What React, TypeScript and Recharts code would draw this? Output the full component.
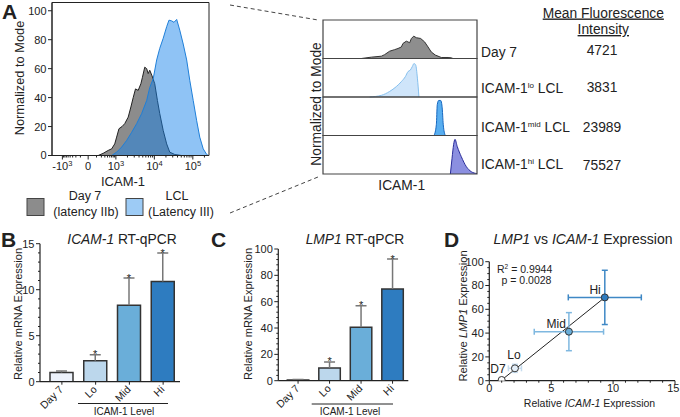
import React from "react";
import {
  AreaChart, Area, XAxis, YAxis, ReferenceArea, ComposedChart, Bar, Cell,
  Scatter, ErrorBar, ScatterChart, ReferenceLine,
} from "recharts";

const W = 680;
const H = 417;
const FONT = "'Liberation Sans', Arial, Helvetica, sans-serif";
const INK = "#222";

// ---------- Panel A (left): overlaid flow histograms; x in display decades (3 = 10^3)
const day7HistX = [2.54, 2.67, 2.8, 2.89, 2.97, 3.02, 3.08, 3.16, 3.23, 3.32, 3.39, 3.45, 3.51, 3.58, 3.65, 3.69, 3.75, 3.8, 3.84, 3.88, 3.94, 4.01, 4.08, 4.14, 4.23, 4.32, 4.4, 4.53, 4.71];
const day7HistY = [0, 1.5, 3.5, 4.6, 8, 12.7, 18.5, 20, 22, 26.5, 33.5, 40, 46, 45, 49.6, 54, 61, 60, 56.6, 58.9, 55, 49.6, 38, 29, 17.3, 8, 2.3, 0.7, 0];
const lclHistX = [2.89, 3.02, 3.15, 3.28, 3.41, 3.54, 3.67, 3.8, 3.88, 3.97, 4.06, 4.14, 4.23, 4.32, 4.38, 4.45, 4.51, 4.58, 4.66, 4.75, 4.84, 4.92, 5.01, 5.1, 5.18, 5.27, 5.36, 5.4];
const lclHistY = [0, 2.3, 5.8, 10.4, 16, 22, 29, 38, 47, 53, 66, 74, 81, 89, 93.5, 93, 92, 94, 86.6, 77, 66, 52, 38, 24, 12.7, 4.6, 0.7, 0];
const histMajorTicks = [1.61, 2.28, 3, 4, 5];
const histTickBase = ["-10", "0", "10", "10", "10"];
const histTickExp = ["3", "", "3", "4", "5"];
const histYTicks = [0, 20, 40, 60, 80, 100];

// ---------- Panel A (right): stacked histograms (x = % of box width, y = % of row height)
const d7StackX = [24.9, 31.4, 37.9, 40, 43.3, 46.5, 48.7, 50.9, 51.9, 54.1, 56.3, 57.4, 58.9, 60.6, 63.4, 66, 68.2, 70.3, 72.9, 76.8, 81.2, 83.3, 84.4];
const d7StackY = [0, 3.5, 6, 10, 19, 23, 26, 30, 39, 45, 41, 52, 58, 54, 52, 43, 30, 17, 9, 2.6, 2.6, 1.7, 0];
const loStackX = [30.3, 37.9, 43.3, 47.6, 50.9, 53.5, 55.2, 56.7, 58, 59.1, 60.2, 61.3, 62.3];
const loStackY = [0, 4.3, 14.5, 27, 40, 53, 66, 70, 79, 87, 83, 49, 0];
const midStackX = [72.1, 73.6, 74.2, 75.1, 76.4, 77.3, 78.1, 79.4];
const midStackY = [0, 28, 80, 91, 91, 76, 28, 0];
const hiStackX = [82.7, 83.8, 84.8, 85.7, 87.2, 89.8, 93.1, 96.3, 100];
const hiStackY = [0, 41, 76, 90, 71, 45, 19, 6, 1];
const stackNames = ["Day 7", "ICAM-1", "ICAM-1", "ICAM-1"];
const stackSup = ["", "lo", "mid", "hi"];
const stackMFI = ["4721", "3831", "23989", "75527"];

// ---------- Panels B & C: bar charts
const barCats = ["Day 7", "Lo", "Mid", "Hi"];
const icamMean = [0.99, 2.27, 8.3, 10.9];
const icamErr = [0.18, 0.66, 2.97, 3.08];
const lmpMean = [0.5, 9.6, 40.5, 69.6];
const lmpErr = [0.5, 4.6, 16.5, 22.8];
const barStar = [false, true, true, true];
const barColors = ["#edf2fb", "#bcd7ec", "#6aaed9", "#2e7cc0"];

// ---------- Panel D: correlation scatter
const corrNames = ["D7", "Lo", "Mid", "Hi"];
const corrX = [1.0, 2.07, 6.43, 9.33];
const corrY = [0.6, 10.4, 41.2, 70];
const corrXErr = [0, 0.53, 2.8, 2.95];
const corrYErr = [0, 3.4, 16, 22.8];
const corrFill = ["#ffffff", "#e3eef8", "#6aaed9", "#2e7cc0"];
const corrErrColor = ["#c6dcee", "#c6dcee", "#7fb8e0", "#3f88c5"];
const regLine = [{ x: 1.0, y: 0.6 }, { x: 9.33, y: 70 }];

// ---------- helpers
function box(l: number, t: number, r: number, b: number) {
  return { left: l - 1, top: t, right: W - r, bottom: H - b - 1 };
}
function range(a: number, b: number, step: number) {
  const out: number[] = [];
  for (let v = a; v <= b + 1e-9; v += step) out.push(Math.round(v * 1000) / 1000);
  return out;
}
const isMult = (v: number, m: number) => Math.abs(v / m - Math.round(v / m)) < 1e-6;

function yTickFactory(majorEvery: number, fs: number, majorLen = 4, minorLen = 2) {
  return (p: any) => {
    const v = p.payload.value as number;
    const major = isMult(v, majorEvery);
    return (
      <g>
        <line x1={p.x - (major ? majorLen : minorLen)} x2={p.x} y1={p.y} y2={p.y} stroke={INK} strokeWidth={1} />
        {major && (
          <text x={p.x - majorLen - 1.5} y={p.y} dy="0.36em" textAnchor="end" fontSize={fs} fontFamily={FONT} fill={INK}>
            {v}
          </text>
        )}
      </g>
    );
  };
}
function xTickFactory(majorEvery: number, fs: number, maxV: number, majorLen = 3.5, minorLen = 2) {
  return (p: any) => {
    const v = p.payload.value as number;
    const major = isMult(v, majorEvery);
    const last = Math.abs(v - maxV) < 1e-6;
    return (
      <g>
        <line x1={p.x} x2={p.x} y1={p.y} y2={p.y + (major ? majorLen : minorLen)} stroke={INK} strokeWidth={1} />
        {major && (
          <text x={last ? p.x + 4.5 : p.x} y={p.y + 11} textAnchor={last ? "end" : "middle"} fontSize={fs} fontFamily={FONT} fill={INK}>
            {v}
          </text>
        )}
      </g>
    );
  };
}

function HistXTick(p: any) {
  const i = histMajorTicks.indexOf(p.payload.value);
  if (i < 0) return <line x1={p.x} x2={p.x} y1={p.y} y2={p.y + 2} stroke={INK} />;
  return (
    <g>
      <line x1={p.x} x2={p.x} y1={p.y} y2={p.y + 4} stroke={INK} />
      <text x={p.x} y={p.y + 14} textAnchor="middle" fontSize={11} fontFamily={FONT} fill={INK}>
        {histTickBase[i]}
        {histTickExp[i] ? <tspan dy={-4} fontSize={7.5}>{histTickExp[i]}</tspan> : null}
      </text>
    </g>
  );
}

function RotTick(p: any) {
  return (
    <g>
      <line x1={p.x} x2={p.x} y1={p.y} y2={p.y + 3} stroke={INK} />
      <text x={p.x + 2} y={p.y + 8.5} transform={`rotate(-45 ${p.x + 2} ${p.y + 8.5})`} textAnchor="end" fontSize={10.5} fontFamily={FONT} fill={INK}>
        {p.payload.value}
      </text>
    </g>
  );
}

function ErrShape(p: any) {
  const cx = p.x + p.width / 2;
  const top = p.y;
  const bottom = p.y + p.height;
  return (
    <g>
      <line x1={cx} x2={cx} y1={bottom} y2={top} stroke="#777" strokeWidth={1.5} />
      <line x1={cx - 5.5} x2={cx + 5.5} y1={top} y2={top} stroke="#777" strokeWidth={1.5} />
      {p.payload.sig ? (
        <text x={cx} y={top + 3.5} textAnchor="middle" fontSize={11} fontFamily={FONT} fill={INK}>*</text>
      ) : null}
    </g>
  );
}

const logFrac = [2, 3, 4, 5, 6, 7, 8, 9].map((k) => Math.log10(k));
const histMinorTicks = [
  ...logFrac.map((f) => 2.28 - 0.67 * f),
  ...logFrac.map((f) => 2.28 + 0.72 * f),
  ...logFrac.map((f) => 3 + f),
  ...logFrac.map((f) => 4 + f),
  5 + logFrac[0],
];
const histAllTicks = [...histMajorTicks, ...histMinorTicks].sort((a, b) => a - b);

const histRows = (() => {
  const m = new Map<number, any>();
  day7HistX.forEach((x, i) => m.set(x, { ...(m.get(x) || { x }), day7: day7HistY[i] }));
  lclHistX.forEach((x, i) => m.set(x, { ...(m.get(x) || { x }), lcl: lclHistY[i] }));
  return Array.from(m.values()).sort((a, b) => a.x - b.x);
})();

const stackSeries = [
  { x: d7StackX, y: d7StackY, fill: "#8e8e8e", stroke: "#333", type: "linear" },
  { x: loStackX, y: loStackY, fill: "#cfe5fa", stroke: "#86c0ee", type: "monotone" },
  { x: midStackX, y: midStackY, fill: "#58aef0", stroke: "#1668c0", type: "monotone" },
  { x: hiStackX, y: hiStackY, fill: "#8b8fe0", stroke: "#2a2d9a", type: "monotone" },
];
const stackTop = 20;
const stackRowH = 38.5;

const icamRows = barCats.map((c, i) => ({ cat: c, value: icamMean[i], err: icamErr[i], sig: barStar[i] }));
const lmpRows = barCats.map((c, i) => ({ cat: c, value: lmpMean[i], err: lmpErr[i], sig: barStar[i] }));

const labelOffsets: Record<string, { dx: number; dy: number; anchor: "end" | "middle" }> = {
  D7: { dx: 4, dy: -7, anchor: "end" },
  Lo: { dx: -1, dy: -9, anchor: "middle" },
  Mid: { dx: -3, dy: -4, anchor: "end" },
  Hi: { dx: -4, dy: -3, anchor: "end" },
};
function CorrDot(p: any) {
  const o = labelOffsets[p.payload.name];
  return (
    <g>
      <circle cx={p.cx} cy={p.cy} r={3.5} fill={p.payload.fill} stroke="#333" strokeWidth={1} />
      <text x={p.cx + o.dx} y={p.cy + o.dy} textAnchor={o.anchor} fontSize={12} fontFamily={FONT} fill={INK}>
        {p.payload.name}
      </text>
    </g>
  );
}

const abs: React.CSSProperties = { position: "absolute", left: 0, top: 0 };

function BarPanel(props: { rows: any[]; margin: any; domainMax: number; yTicks: number[]; yMajor: number; pad: number; barSize: number }) {
  const { rows, margin, domainMax, yTicks, yMajor, pad, barSize } = props;
  return (
    <ComposedChart width={W} height={H} data={rows} margin={margin}>
      <XAxis dataKey="cat" type="category" padding={{ left: pad, right: 0 }} height={1} tickSize={0} tickMargin={0}
        tickLine={false} axisLine={{ stroke: INK, strokeWidth: 1.2 }} tick={RotTick} interval={0} />
      <YAxis type="number" domain={[0, domainMax]} ticks={yTicks} interval={0} width={1} tickSize={0} tickMargin={0}
        tickLine={false} axisLine={{ stroke: INK, strokeWidth: 1.2 }} tick={yTickFactory(yMajor, 11)} allowDataOverflow />
      <Bar dataKey="value" stackId="s" barSize={barSize} stroke="#333" strokeWidth={1.5} isAnimationActive={false}>
        {rows.map((r, i) => <Cell key={r.cat} fill={barColors[i]} />)}
      </Bar>
      <Bar dataKey="err" stackId="s" barSize={barSize} shape={ErrShape} isAnimationActive={false} />
    </ComposedChart>
  );
}

export default function App() {
  return (
    <div style={{ position: "absolute", left: 0, top: 0, width: W, height: H, background: "#fff", overflow: "hidden" }}>
      <div style={abs}>
        <AreaChart width={W} height={H} data={histRows} margin={box(52, 2.5, 209, 155.5)}>
          <XAxis type="number" dataKey="x" domain={[1.34, 5.42]} ticks={histAllTicks} interval={0} height={1}
            tickSize={0} tickMargin={0} tickLine={false} axisLine={{ stroke: INK }} tick={HistXTick} allowDataOverflow />
          <YAxis type="number" domain={[0, 105.7]} ticks={histYTicks} interval={0} width={1} tickSize={0} tickMargin={0}
            tickLine={false} axisLine={{ stroke: INK }} tick={yTickFactory(20, 11)} allowDataOverflow />
          <Area dataKey="day7" type="linear" fill="#8c8c8c" fillOpacity={1} stroke="#222" strokeWidth={1} connectNulls isAnimationActive={false} />
          <Area dataKey="lcl" type="linear" fill="#1482eb" fillOpacity={0.48} stroke="#1f7fd8" strokeWidth={1} connectNulls isAnimationActive={false} />
          <ReferenceArea x1={1.34} x2={5.42} y1={0} y2={105.7} fill="#fff" fillOpacity={0} stroke={INK} strokeWidth={1} ifOverflow="visible" />
        </AreaChart>
      </div>

      {stackSeries.map((s, k) => {
        const rows = s.x.map((x, i) => ({ x, y: s.y[i] }));
        const t = stackTop + k * stackRowH;
        return (
          <div style={abs} key={k}>
            <AreaChart width={W} height={H} data={rows} margin={{ left: 323, top: t, right: W - 477, bottom: H - t - stackRowH }}>
              <XAxis type="number" dataKey="x" domain={[0, 100]} hide />
              <YAxis type="number" domain={[0, 100]} hide />
              <Area dataKey="y" type={s.type as any} fill={s.fill} fillOpacity={1} stroke={s.stroke} strokeWidth={1} isAnimationActive={false} />
              <ReferenceArea x1={0} x2={100} y1={0} y2={100} fill="#fff" fillOpacity={0} stroke="#444" strokeWidth={1.2} ifOverflow="visible" />
            </AreaChart>
          </div>
        );
      })}

      <div style={abs}>
        <BarPanel rows={icamRows} margin={box(40, 243.7, 180, 381.7)} domainMax={15} yTicks={range(0, 15, 1)} yMajor={5} pad={5} barSize={23} />
      </div>

      <div style={abs}>
        <BarPanel rows={lmpRows} margin={box(278.3, 249, 408.3, 380.7)} domainMax={100} yTicks={range(0, 100, 4)} yMajor={20} pad={4} barSize={21.5} />
      </div>

      <div style={abs}>
        <ScatterChart width={W} height={H} margin={box(489.3, 261.7, 675, 380.7)}>
          <XAxis type="number" dataKey="x" domain={[0, 15]} ticks={range(0, 15, 1)} interval={0} height={1} tickSize={0}
            tickMargin={0} tickLine={false} axisLine={{ stroke: INK, strokeWidth: 1.2 }} tick={xTickFactory(5, 11, 15)} allowDataOverflow />
          <YAxis type="number" dataKey="y" domain={[0, 100]} ticks={range(0, 100, 5)} interval={0} width={1} tickSize={0}
            tickMargin={0} tickLine={false} axisLine={{ stroke: INK, strokeWidth: 1.2 }} tick={yTickFactory(20, 11)} allowDataOverflow />
          <ReferenceLine segment={regLine} stroke="#222" strokeWidth={1} ifOverflow="visible" />
          {corrNames.map((n, i) => (
            <Scatter key={n} data={[{ name: n, x: corrX[i], y: corrY[i], xe: corrXErr[i], ye: corrYErr[i], fill: corrFill[i] }]}
              shape={CorrDot} isAnimationActive={false}>
              {corrXErr[i] > 0 && <ErrorBar dataKey="xe" direction="x" width={3} stroke={corrErrColor[i]} strokeWidth={1.5} />}
              {corrYErr[i] > 0 && <ErrorBar dataKey="ye" direction="y" width={3} stroke={corrErrColor[i]} strokeWidth={1.5} />}
            </Scatter>
          ))}
        </ScatterChart>
      </div>

      <svg width={W} height={H} style={abs} fontFamily={FONT} fill={INK}>
        <text x={2} y={19} fontSize={21} fontWeight="bold">A</text>
        <text x={1} y={247} fontSize={21} fontWeight="bold">B</text>
        <text x={211} y={247} fontSize={21} fontWeight="bold">C</text>
        <text x={444} y={247} fontSize={21} fontWeight="bold">D</text>

        <text transform="translate(23.5 78) rotate(-90)" textAnchor="middle" fontSize={12.8}>Normalized to Mode</text>
        <text x={123} y={186} textAnchor="middle" fontSize={13}>ICAM-1</text>
        <rect x={27} y={198.5} width={17} height={17} fill="#8c8c8c" stroke="#444" strokeWidth={1} />
        <text x={85} y={199.5} textAnchor="middle" fontSize={12.5}>Day 7</text>
        <text x={86} y={215.5} textAnchor="middle" fontSize={12.5}>(latency IIb)</text>
        <rect x={126} y={198.5} width={17} height={17} fill="#9dcbf5" stroke="#444" strokeWidth={1} />
        <text x={177} y={199.5} textAnchor="middle" fontSize={12.5}>LCL</text>
        <text x={181} y={215.5} textAnchor="middle" fontSize={12.5}>(Latency III)</text>

        <line x1={230} y1={5} x2={318} y2={20} stroke="#444" strokeWidth={1} strokeDasharray="4 3" />
        <line x1={230} y1={213} x2={318} y2={177} stroke="#444" strokeWidth={1} strokeDasharray="4 3" />

        <text transform="translate(321 104) rotate(-90)" textAnchor="middle" fontSize={13.8}>Normalized to Mode</text>
        <text x={401.7} y={190} textAnchor="middle" fontSize={13.8}>ICAM-1</text>
        {stackNames.map((n, i) => {
          const baseY = [56.7, 93, 131.5, 168.5][i];
          return (
            <text key={i} x={481} y={baseY} fontSize={13.8}>
              {n}
              {stackSup[i] ? <tspan dy={-5} fontSize={8}>{stackSup[i]}</tspan> : null}
              {stackSup[i] ? <tspan dy={5}> LCL</tspan> : null}
            </text>
          );
        })}
        <text x={603.3} y={17.5} textAnchor="middle" fontSize={13.8} textDecoration="underline">Mean Fluorescence</text>
        <text x={603.3} y={34} textAnchor="middle" fontSize={13.8} textDecoration="underline">Intensity</text>
        {stackMFI.map((v, i) => (
          <text key={v} x={602} y={[55, 91.5, 132, 170][i]} textAnchor="middle" fontSize={13.8}>{v}</text>
        ))}

        <text x={122} y={244} textAnchor="middle" fontSize={13.8}>
          <tspan fontStyle="italic">ICAM-1</tspan> RT-qPCR
        </text>
        <text transform="translate(22 314) rotate(-90)" textAnchor="middle" fontSize={11}>Relative mRNA Expression</text>
        <line x1={78} y1={403.5} x2={168} y2={403.5} stroke={INK} strokeWidth={1} />
        <text x={124} y={415} textAnchor="middle" fontSize={10}>ICAM-1 Level</text>

        <text x={355} y={244} textAnchor="middle" fontSize={13.8}>
          <tspan fontStyle="italic">LMP1</tspan> RT-qPCR
        </text>
        <text transform="translate(252 314) rotate(-90)" textAnchor="middle" fontSize={11}>Relative mRNA Expression</text>
        <line x1={311.7} y1={404} x2={393} y2={404} stroke={INK} strokeWidth={1} />
        <text x={350} y={415} textAnchor="middle" fontSize={10}>ICAM-1 Level</text>

        <text x={583} y={244} textAnchor="middle" fontSize={14}>
          <tspan fontStyle="italic">LMP1</tspan> vs <tspan fontStyle="italic">ICAM-1</tspan> Expression
        </text>
        <text transform="translate(467 316) rotate(-90)" textAnchor="middle" fontSize={11.2}>
          Relative <tspan fontStyle="italic">LMP1</tspan> Expression
        </text>
        <text x={589.5} y={406.5} textAnchor="middle" fontSize={10.5}>
          Relative <tspan fontStyle="italic">ICAM-1</tspan> Expression
        </text>
        <text x={497} y={272.5} fontSize={10.5}>
          R<tspan dy={-4} fontSize={6.5}>2</tspan><tspan dy={4}> = 0.9944</tspan>
        </text>
        <text x={501.5} y={283.5} fontSize={10.5}>p = 0.0028</text>
      </svg>
    </div>
  );
}
